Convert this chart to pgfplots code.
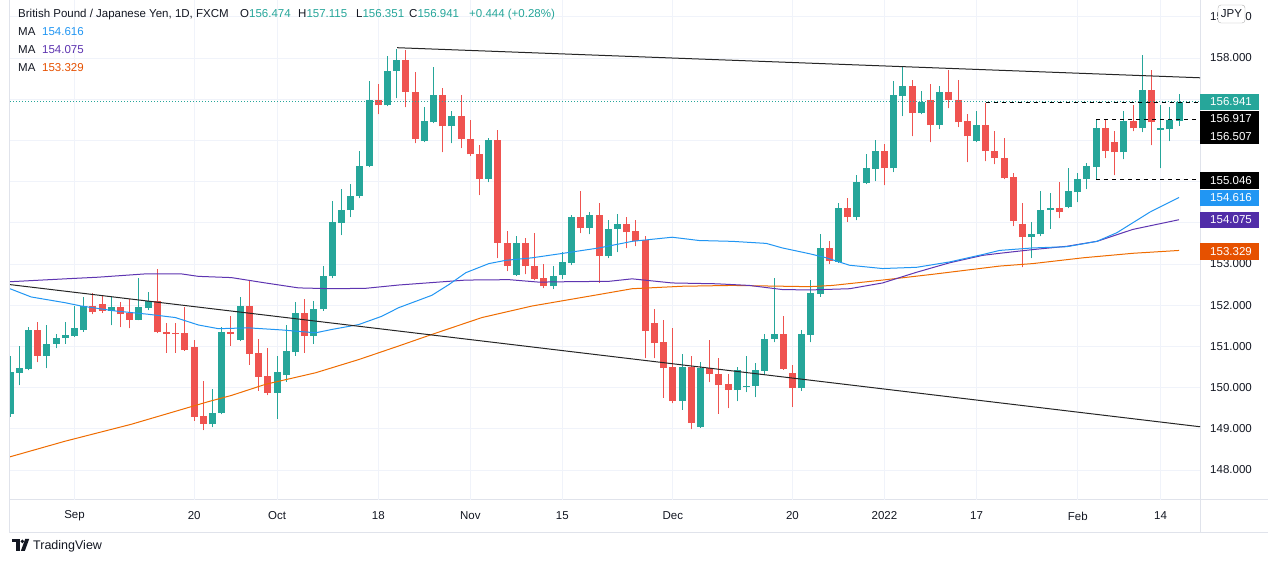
\documentclass[border=0pt]{standalone}
\usepackage{fontspec}
\setmainfont{Liberation Sans}
\usepackage{pgfplots}
\usepackage{pgfplotstable}
\pgfplotsset{compat=1.18}
\definecolor{up}{HTML}{26A69A}
\definecolor{dn}{HTML}{EF5350}
\definecolor{mab}{HTML}{2196F3}
\definecolor{map}{HTML}{5E35B1}
\definecolor{mapbox}{HTML}{512DA8}
\definecolor{mao}{HTML}{EF6C00}
\definecolor{maobox}{HTML}{E65100}
\definecolor{gridc}{HTML}{F0F3FA}
\definecolor{bordc}{HTML}{E0E3EB}
\definecolor{txt}{HTML}{131722}
\newcommand{\fs}{\fontsize{11.5}{14}\selectfont}

\pgfplotstableread{
j o h l c
0 149.35 150.77 149.29 150.38
1 150.35 151.02 150.06 150.47
2 150.44 151.47 150.42 151.41
4 150.77 151.53 150.47 151.05
5 151.06 151.29 150.96 151.21
6 151.20 151.60 151.07 151.27
7 151.25 151.98 151.23 151.44
8 151.41 152.21 151.36 151.99
11 151.86 152.21 151.51 151.95
14 151.65 152.65 151.63 151.95
15 151.93 152.33 151.88 152.11
22 149.11 149.96 149.04 149.39
23 149.38 151.48 149.35 151.36
25 151.15 152.21 151.13 151.99
29 149.87 150.76 149.24 150.39
30 150.30 151.53 150.14 150.88
31 150.86 152.07 150.77 151.82
33 151.25 152.09 151.06 151.92
34 151.90 152.94 151.87 152.72
35 152.70 154.52 152.65 154.01
36 153.99 154.83 153.70 154.32
37 154.31 154.95 154.14 154.66
38 154.65 155.75 154.59 155.39
39 155.37 157.43 155.35 156.97
41 156.85 158.06 156.83 157.69
42 157.68 158.23 157.02 157.96
45 155.98 156.82 155.96 156.46
46 156.44 157.79 156.42 157.11
48 156.34 156.72 155.93 156.60
52 155.06 156.07 154.99 156.00
55 152.73 153.67 152.71 153.52
59 152.46 152.94 152.39 152.72
60 152.73 153.28 152.63 153.04
61 153.02 154.20 152.97 154.15
63 153.87 154.27 153.72 154.18
65 153.19 154.06 153.14 153.86
66 153.85 154.22 153.29 153.98
73 149.67 150.81 149.46 150.49
75 149.04 150.61 149.02 150.47
79 149.94 150.51 149.67 150.42
80 150.01 150.76 149.89 150.05
81 150.04 150.59 149.77 150.42
82 150.40 151.31 150.30 151.19
83 151.18 152.65 151.10 151.31
86 149.99 151.41 149.92 151.29
87 151.28 152.60 151.10 152.29
88 152.27 153.72 152.20 153.38
90 153.05 154.47 153.03 154.37
92 154.14 155.15 154.06 154.98
93 154.96 155.68 154.94 155.32
94 155.30 156.02 155.01 155.75
96 155.32 157.43 155.23 157.09
97 157.07 157.79 156.59 157.31
99 156.66 157.21 156.63 156.92
101 156.37 157.33 156.27 157.18
105 155.98 156.72 155.96 156.38
111 153.65 154.03 153.14 153.74
112 153.72 154.76 153.67 154.32
113 154.31 154.73 153.85 154.35
115 154.38 155.34 154.35 154.76
116 154.74 155.22 154.50 155.07
117 155.06 155.44 154.82 155.37
118 155.35 156.507 155.046 156.29
121 155.71 156.72 155.54 156.46
123 156.29 158.08 156.20 157.23
125 156.25 156.87 155.32 156.29
126 156.27 156.82 155.98 156.50
127 156.474 157.115 156.351 156.941
}\upc

\pgfplotstableread{
j o h l c
3 151.41 151.60 150.62 150.77
9 151.99 152.30 151.78 151.83
10 152.04 152.24 151.82 151.86
12 151.95 152.08 151.47 151.78
13 151.80 152.14 151.44 151.65
16 152.11 152.87 151.32 151.34
17 151.36 151.56 150.85 151.30
18 151.32 151.57 150.85 151.30
19 151.32 151.95 150.89 150.91
20 150.98 151.15 149.19 149.29
21 149.30 150.16 148.97 149.12
24 151.36 151.75 151.01 151.30
26 151.99 152.58 150.55 150.81
27 150.83 151.19 149.92 150.26
28 150.27 150.95 149.82 149.87
32 151.82 152.16 150.84 151.25
40 156.97 157.38 156.63 156.85
43 157.96 158.20 156.80 157.18
44 157.18 157.67 155.93 156.03
47 157.11 157.28 155.71 156.34
49 156.60 157.11 155.81 156.03
50 156.04 156.50 155.62 155.66
51 155.68 155.90 154.67 155.06
53 156.00 156.26 153.14 153.51
54 153.52 153.79 152.83 152.95
56 153.52 153.64 152.75 152.95
57 152.96 153.76 152.60 152.63
58 152.65 153.01 152.41 152.46
62 154.15 154.76 153.75 153.87
64 154.18 154.47 152.54 153.19
67 153.98 154.15 153.38 153.77
68 153.79 154.08 153.43 153.55
69 153.58 153.69 150.71 151.37
70 151.56 151.92 150.71 151.08
71 151.10 151.63 149.75 150.47
72 150.49 151.44 149.62 149.67
74 150.49 150.76 148.99 149.14
76 150.47 151.15 150.13 150.33
77 150.34 150.71 149.36 150.06
78 150.08 150.33 149.50 149.94
84 151.31 151.73 150.43 150.45
85 150.35 150.56 149.53 149.99
89 153.38 153.57 153.00 153.07
91 154.37 154.59 154.02 154.14
95 155.75 155.92 154.91 155.32
98 157.31 157.47 156.10 156.66
100 156.99 157.38 155.95 156.37
102 157.18 157.72 156.78 156.97
103 156.99 157.47 156.32 156.44
104 156.46 156.63 155.47 156.10
106 156.38 156.917 155.49 155.74
107 155.75 156.24 155.42 155.57
108 155.58 156.07 155.06 155.08
109 155.10 155.22 153.92 154.04
110 153.96 154.49 152.92 153.65
114 154.35 154.98 154.11 154.26
119 156.29 156.50 155.57 155.74
120 155.97 156.24 155.15 155.71
122 156.46 156.87 156.22 156.29
124 157.23 157.72 155.88 156.44
}\dnc

\begin{document}
\begin{tikzpicture}[x=1pt,y=1pt]
\fill[white] (0,0) rectangle (1274,562);
\useasboundingbox (0,0) rectangle (1274,562);
\draw[bordc, line width=1pt] (1200,29) -- (1200,562);
\draw[bordc, line width=1pt] (9,62) -- (1268,62);
\draw[bordc, line width=1pt] (9,29) -- (1268,29);
\draw[bordc, line width=1pt] (9,29) -- (9,562);
\begin{axis}[
  at={(10pt,62pt)}, anchor=south west,
  width=1190pt, height=500pt, scale only axis,
  xmin=-0.01, xmax=129.28, ymin=147.272, ymax=159.408,
  axis line style={draw=none}, tick style={draw=none},
  grid=major, major grid style={gridc, line width=1pt},
  xtick={7,20,29,40,50,60,72,85,95,105,116,125},
  xticklabels={Sep,20,Oct,18,Nov,15,Dec,20,2022,17,Feb,14},
  xticklabel style={anchor=center, yshift=-16pt, font=\fs, text=txt},
  ytick={148,149,150,151,152,153,154,155,156,157,158,159},
  yticklabels={148.000,149.000,150.000,151.000,152.000,153.000,,,,,158.000,159.000},
  yticklabel pos=right,
  yticklabel style={anchor=center, xshift=31pt, font=\fs, text=txt},
  candle/.style={only marks, mark size=0pt, mark options={draw=none, fill=none},
    error bars/y dir=plus, error bars/y explicit, error bars/error mark=none},
]
% wicks
\addplot[candle, error bars/error bar style={up, line width=1pt, solid}]
  table[x=j, y=l, y error plus expr=\thisrow{h}-\thisrow{l}] {\upc};
\addplot[candle, error bars/error bar style={dn, line width=1pt, solid}]
  table[x=j, y=l, y error plus expr=\thisrow{h}-\thisrow{l}] {\dnc};
% bodies
\addplot[candle, error bars/error bar style={up, line width=7pt, solid}]
  table[x=j, y expr={min(\thisrow{o},\thisrow{c})}, y error plus expr={max(abs(\thisrow{c}-\thisrow{o}),0.025)}] {\upc};
\addplot[candle, error bars/error bar style={dn, line width=7pt, solid}]
  table[x=j, y expr={min(\thisrow{o},\thisrow{c})}, y error plus expr={max(abs(\thisrow{c}-\thisrow{o}),0.025)}] {\dnc};
% moving averages
\addplot[mao, line width=1pt] coordinates {(-0.01,148.32) (5.99,148.70) (13.17,149.11) (21.55,149.66) (24.05,149.81) (27.75,150.08) (33.19,150.36) (37.87,150.68) (42.22,151.01) (45.82,151.29) (51.26,151.70) (56.70,151.98) (63.99,152.26) (67.58,152.40) (73.02,152.46) (78.46,152.48) (86.84,152.45) (89.35,152.48) (94.79,152.61) (100.23,152.75) (107.52,152.95) (111.11,153.01) (116.55,153.15) (121.99,153.26) (127,153.329)};
\addplot[map, line width=1pt] coordinates {(-0.01,152.57) (5.99,152.64) (9.58,152.68) (14.69,152.76) (18.61,152.76) (20.46,152.70) (24.05,152.67) (27.75,152.54) (31.34,152.42) (34.93,152.40) (38.63,152.41) (42.22,152.49) (49.52,152.61) (54.20,152.62) (57.46,152.56) (60.40,152.57) (65.08,152.58) (67.58,152.64) (71.93,152.54) (76.72,152.52) (80.31,152.48) (83.90,152.38) (86.84,152.37) (91.20,152.40) (94.79,152.54) (98.49,152.80) (102.08,153.03) (105.67,153.21) (107.52,153.26) (111.11,153.35) (114.81,153.43) (118.08,153.55) (121.99,153.84) (127,154.075)};
\addplot[mab, line width=1pt] coordinates {(-0.01,152.40) (2.29,152.20) (5.99,152.06) (7.73,151.98) (11.43,151.86) (15.02,151.78) (17.96,151.70) (20.46,151.52) (22.64,151.43) (25.90,151.45) (29.49,151.40) (33.19,151.33) (34.93,151.41) (37.87,151.53) (40.37,151.73) (42.22,151.94) (45.82,152.24) (47.67,152.50) (49.52,152.79) (52.02,153.01) (53.87,153.09) (56.70,153.15) (60.40,153.27) (63.99,153.39) (67.58,153.55) (71.93,153.65) (74.87,153.57) (78.46,153.55) (82.16,153.50) (83.90,153.39) (86.84,153.25) (88.69,153.15) (91.20,152.97) (94.79,152.89) (98.49,152.92) (102.08,153.05) (105.67,153.23) (107.52,153.33) (111.11,153.39) (114.81,153.42) (118.08,153.55) (120.25,153.76) (123.84,154.26) (127,154.616)};
% drawings
\addplot[black!85, line width=1pt] coordinates {(42.04,158.25) (129.28,157.52)};
\addplot[black!85, line width=1pt] coordinates {(-0.01,152.50) (129.28,149.05)};
\addplot[up, line width=1pt, dash pattern=on 1pt off 2pt] coordinates {(-0.01,156.941) (129.28,156.941)};
\addplot[black, line width=1pt, dash pattern=on 4pt off 4pt] coordinates {(106,156.917) (129.28,156.917)};
\addplot[black, line width=1pt, dash pattern=on 4pt off 4pt] coordinates {(118,156.507) (129.28,156.507)};
\addplot[black, line width=1pt, dash pattern=on 4pt off 4pt] coordinates {(118,155.046) (129.28,155.046)};
\end{axis}
% price labels
\fill[up] (1200,452) rectangle (1259,468);
\node[white, font=\fs] at (1231,460) {156.941};
\fill[black] (1200,418) rectangle (1259,451);
\node[white, font=\fs] at (1231,443) {156.917};
\node[white, font=\fs] at (1231,425) {156.507};
\fill[black] (1200,373) rectangle (1259,390);
\node[white, font=\fs] at (1231,381.5) {155.046};
\fill[mab] (1200,356) rectangle (1259,372);
\node[white, font=\fs] at (1231,364) {154.616};
\fill[mapbox] (1200,334) rectangle (1259,350);
\node[white, font=\fs] at (1231,342) {154.075};
\fill[maobox] (1200,302) rectangle (1259,319);
\node[white, font=\fs] at (1231,310.5) {153.329};
\draw[fill=white, draw=black!30, rounded corners=3pt] (1218,539) rectangle (1245,557);
\node[txt, font=\fs] at (1231.5,548) {JPY};
% legend
\begin{scope}[every node/.style={inner sep=0pt, anchor=base west, font=\fs, text=txt}]
\node at (18,544) {British Pound / Japanese Yen, 1D, FXCM};
\node at (240,544) {O\textcolor{up}{156.474}};
\node at (298,544) {H\textcolor{up}{157.115}};
\node at (356,544) {L\textcolor{up}{156.351}};
\node at (409,544) {C\textcolor{up}{156.941}};
\node at (469,544) {\textcolor{up}{+0.444 (+0.28\%)}};
\node at (18,526) {MA};
\node at (42,526) {\textcolor{mab}{154.616}};
\node at (18,508) {MA};
\node at (42,508) {\textcolor{map}{154.075}};
\node at (18,490) {MA};
\node at (42,490) {\textcolor{maobox}{153.329}};
\end{scope}
% TradingView logo
\fill[txt] (12,19.5) rectangle (19.5,23);
\fill[txt] (15.5,11) rectangle (19.5,23);
\fill[txt] (22.3,20.6) circle (1.9);
\fill[txt] (25.2,23) -- (29.2,23) -- (24.8,11) -- (20.8,11) -- cycle;
\node[inner sep=0pt, anchor=base west, font=\fontsize{12.5}{15}\selectfont, text=txt] at (33,12.5) {TradingView};
\end{tikzpicture}
\end{document}
